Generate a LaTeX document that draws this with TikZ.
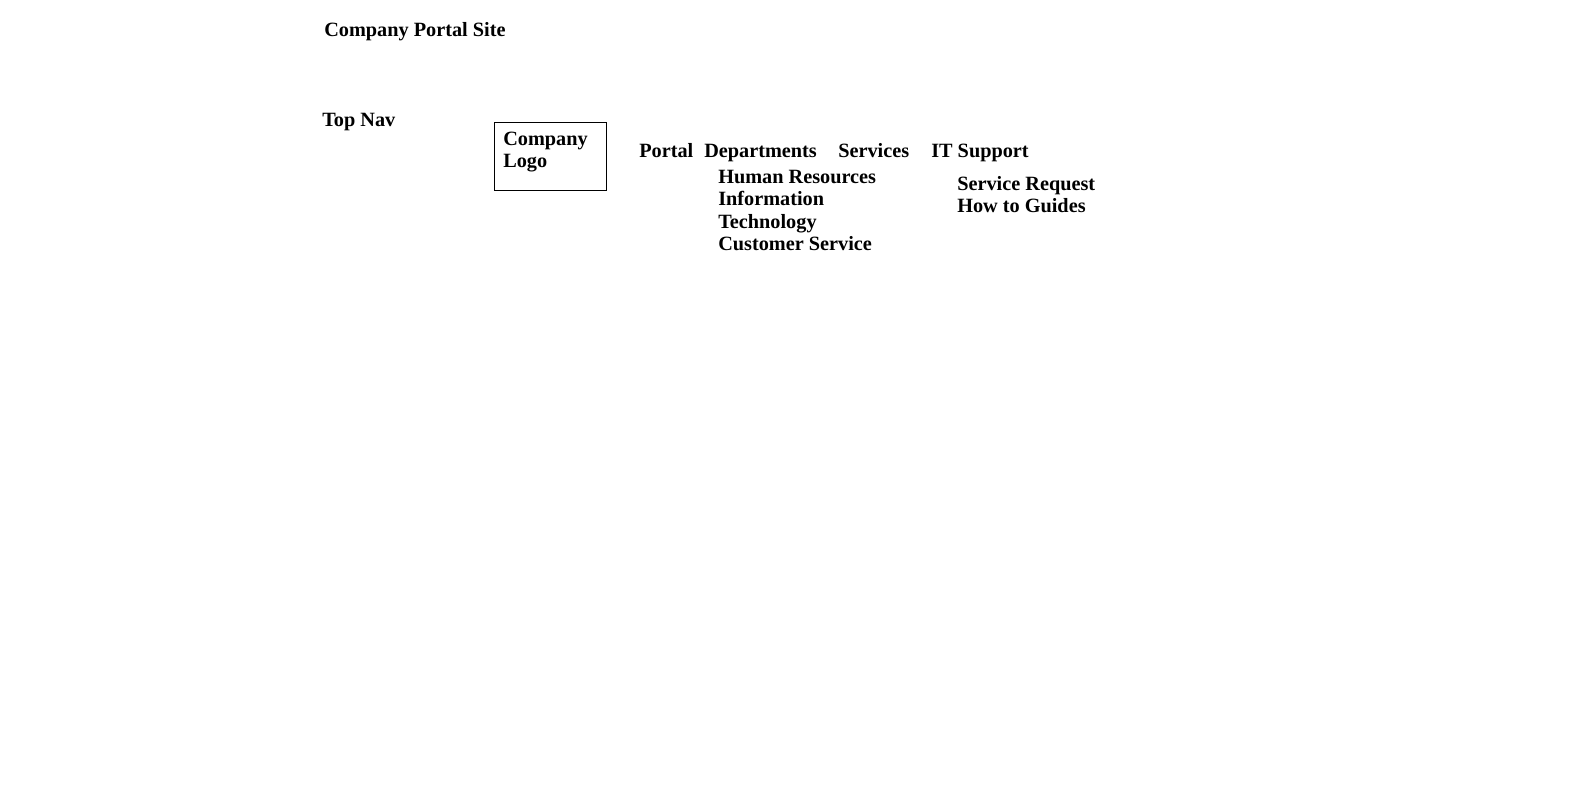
\documentclass[tikz,border=0pt]{standalone}
\usepackage{fontspec}
\setmainfont{Liberation Serif}
\usetikzlibrary{positioning}

\begin{document}
\begin{tikzpicture}
    [
      x = 0.75pt, y = -0.75pt,
      label/.style = {anchor = base west, inner sep = 0pt, align = left,
                      font = \fontsize{15.2}{16.7}\selectfont\bfseries},
      block/.style = {label, anchor = north west},
      logobox/.style = {draw, line width = 0.8pt, anchor = north west,
                        minimum width = 84pt, minimum height = 51pt, inner sep = 0pt},
    ]

    \useasboundingbox (0,0) rectangle (1572,809);

    \node[label] (title) at (324,37) {Company Portal Site};
    \node[label] (topnav) at (322,127) {Top Nav};

    \node[logobox] (logo) at (494,122) {};
    \node[block] (logotext) at (503,132) {Company\\Logo};

    \node[label] (portal) at (639,158) {Portal};
    \node[label] (departments) at (704,158) {Departments};
    \node[label] (services) at (838,158) {Services};
    \node[label] (itsupport) at (931,158) {IT Support};

    \node[block] (deptlist) at (718,170)
      {Human Resources\\Information\\Technology\\Customer Service};
    \node[block] (itlist) at (957,176) {Service Request\\How to Guides};

  \end{tikzpicture}
\end{document}
